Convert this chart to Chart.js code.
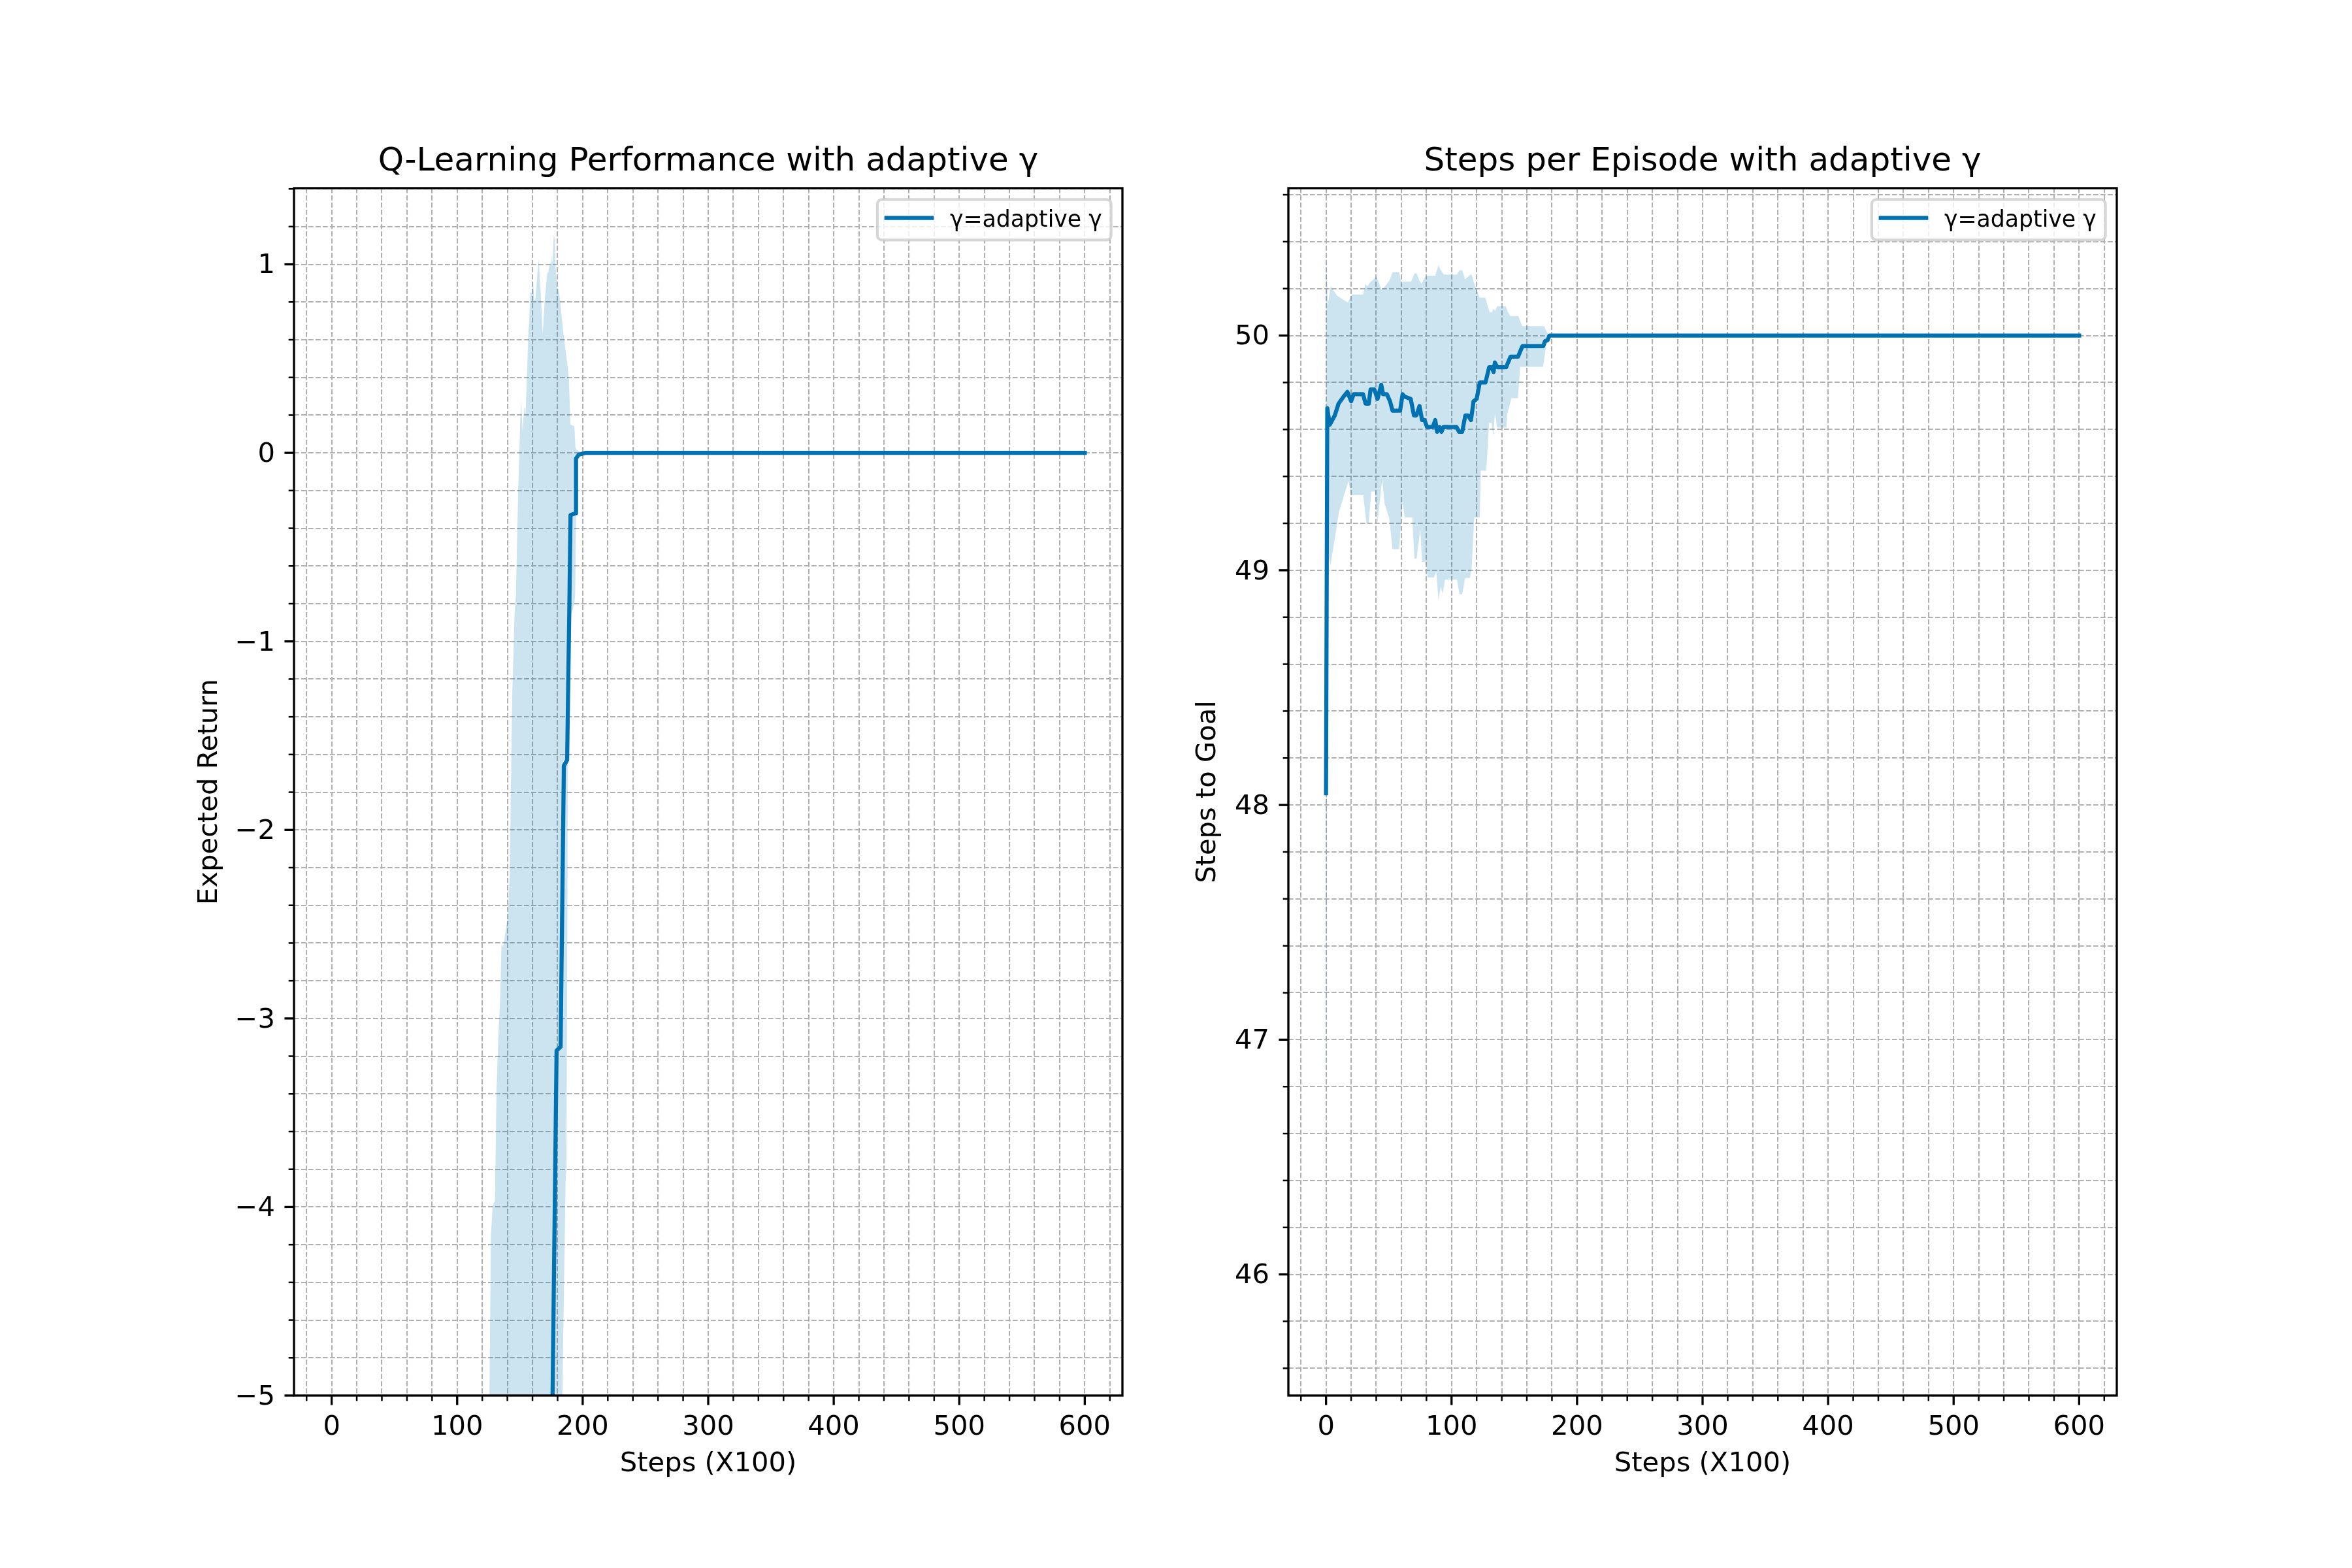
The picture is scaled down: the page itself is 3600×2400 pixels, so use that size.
<!DOCTYPE html>
<html>
<head>
<meta charset="utf-8">
<title>Q-Learning with adaptive gamma</title>
<script src="https://cdn.jsdelivr.net/npm/chart.js@4.4.1/dist/chart.umd.min.js"></script>
<style>
  html, body { margin: 0; padding: 0; background: #ffffff; }
  #figure { position: relative; width: 3600px; height: 2400px; background: #ffffff; }
  .panel { position: absolute; top: 0; width: 1800px; height: 2400px; }
</style>
</head>
<body>
<div id="figure">
  <div class="panel" style="left:0px"><canvas id="returnChart"></canvas></div>
  <div class="panel" style="left:1800px"><canvas id="stepsChart"></canvas></div>
</div>
<script>
// ---- values ----
const legendLabel = "γ=adaptive γ";

const xMajorTicks = [0, 100, 200, 300, 400, 500, 600];
const returnMajorTicks = [-5, -4, -3, -2, -1, 0, 1];
const stepsMajorTicks = [46, 47, 48, 49, 50];

// left panel: expected return (everything below -5 is off the axes)
const returnMeanX = [0, 120, 176, 179.2, 182.4, 185.0, 187.6, 189.4, 190.3, 194.4, 194.7, 196.8, 202, 600];
const returnMeanY = [-25, -14, -5, -3.17, -3.15, -1.66, -1.63, -0.8, -0.33, -0.32, -0.03, -0.01, 0, 0];

const returnUpperX = [0, 120, 125.7, 126.9, 128.3, 130.1, 131.3, 132.7, 134.4, 135.3, 136.6, 137.6, 140.5, 141.9, 142.7,
  143.9, 145.7, 146.8, 148.6, 150.4, 150.9, 152.1, 153.5, 154.3, 155.6, 156.6, 157.3, 158.3, 159.5, 160.4,
  161.3, 162.2, 163.0, 163.9, 165.1, 165.6, 166.5, 167.4, 168.2, 169.1, 170.0, 170.8, 171.7, 172.6, 173.4,
  174.3, 174.8, 175.5, 176.0, 176.9, 177.8, 178.3, 179.5, 180.4, 181.2, 182.1, 183.0, 183.8, 184.7, 185.9,
  187.0, 187.8, 189.0, 189.9, 190.3, 191.6, 193.4, 194.2, 195.1, 196.8, 199.4, 600];
const returnUpperY = [-12, -6, -5, -4.15, -3.99, -3.97, -3.39, -3.11, -2.87, -2.61, -2.62, -2.58, -2.45, -2.23, -1.82,
  -1.27, -0.86, -0.75, -0.2, 0.2, 0.28, 0.115, 0.25, 0.18, 0.41, 0.63, 0.69, 0.85, 0.85, 0.92,
  0.81, 0.81, 0.87, 0.95, 1.03, 0.95, 0.85, 0.74, 0.63, 0.74, 0.83, 0.88, 0.95, 0.96, 0.99,
  1.0, 1.05, 1.0, 1.02, 1.155, 1.13, 1.0, 0.88, 0.87, 0.85, 0.8, 0.74, 0.69, 0.63, 0.57,
  0.51, 0.47, 0.39, 0.22, 0.15, 0.147, 0.14, 0.03, 0.016, 0.01, 0, 0];

const returnLowerX = [0, 183, 183.8, 186.4, 187.0, 187.6, 188.2, 189.0, 190.8, 193.4, 194.0, 194.8, 195.3, 200, 600];
const returnLowerY = [-40, -6, -5, -3.86, -3.8, -2.87, -1.65, -1.0, -0.86, -0.8, -0.75, -0.31, -0.02, 0, 0];

// right panel: steps to goal
const stepsMeanX = [0, 1, 3, 7, 10, 14, 17, 20, 22, 29.5, 31.5, 34, 35.5, 38.5, 41, 44, 45.5, 48.5, 51, 53,
  59, 61, 62.5, 67.5, 70, 72, 74.5, 76.5, 78.5, 80.5, 85, 87, 88.5, 90.5, 92, 93.5, 104, 106, 108.5, 111,
  113, 115.5, 117.5, 120, 122.5, 127, 130, 132, 133.5, 134.5, 136.5, 143.5, 145, 147, 153, 154.5, 156.5,
  173, 174.5, 176.5, 178, 600];
const stepsMeanY = [48.05, 49.69, 49.62, 49.66, 49.71, 49.74, 49.76, 49.72, 49.75, 49.75, 49.71, 49.71, 49.77,
  49.77, 49.73, 49.79, 49.75, 49.75, 49.72, 49.68, 49.68, 49.75, 49.74, 49.73, 49.66, 49.66, 49.70, 49.64,
  49.64, 49.61, 49.61, 49.64, 49.59, 49.61, 49.59, 49.61, 49.61, 49.59, 49.59, 49.66, 49.66, 49.64, 49.72,
  49.73, 49.80, 49.80, 49.865, 49.865, 49.845, 49.885, 49.865, 49.865, 49.885, 49.91, 49.91, 49.93, 49.955,
  49.955, 49.976, 49.98, 50.0, 50.0];

const stepsUpperX = [0, 1.4, 3.8, 8.7, 17.4, 20.5, 29.6, 31.3, 33, 34.8, 40.3, 44.3, 47, 50.5, 53, 58.3, 60,
  61.7, 67.8, 70.4, 72.2, 73.9, 76.2, 77.4, 80, 87, 89.6, 91.3, 93.9, 104.3, 106.3, 108.5, 110.8, 114.6, 116,
  118.1, 122.4, 126.8, 130.3, 132.3, 133.4, 134.6, 136.3, 143.3, 144.5, 146.8, 153.2, 156.3, 173.7, 175.5,
  177.2, 600];
const stepsUpperY = [50.38, 50.13, 50.21, 50.17, 50.14, 50.175, 50.175, 50.22, 50.21, 50.225, 50.25, 50.195,
  50.21, 50.235, 50.27, 50.27, 50.22, 50.23, 50.23, 50.265, 50.265, 50.24, 50.22, 50.235, 50.255, 50.255,
  50.3, 50.28, 50.26, 50.26, 50.278, 50.278, 50.24, 50.258, 50.26, 50.22, 50.162, 50.162, 50.10, 50.10,
  50.115, 50.105, 50.125, 50.125, 50.105, 50.083, 50.083, 50.04, 50.04, 50.02, 50.0, 50.0];

const stepsLowerX = [0, 1, 3.5, 10.4, 17.9, 20, 29.6, 32.2, 34, 36, 39.1, 41, 44.7, 46.6, 50.4, 53, 58.3,
  60.9, 62.6, 68.7, 70.4, 72.2, 75.1, 76.5, 79.7, 80.9, 86.1, 87.8, 89.6, 91.3, 93, 94.8, 104.3, 106.3,
  108.5, 110.8, 114.6, 116, 118.1, 122.5, 123.3, 127.7, 129.9, 132, 133.2, 134.6, 136.3, 143.7, 144.5,
  147.7, 152.9, 154.6, 172.9, 174.6, 176.7, 600];
const stepsLowerY = [45.72, 49.1, 49.02, 49.25, 49.38, 49.32, 49.32, 49.2, 49.2, 49.335, 49.335, 49.2, 49.39,
  49.285, 49.22, 49.09, 49.09, 49.295, 49.225, 49.225, 49.05, 49.05, 49.175, 49.035, 49.035, 48.97, 48.97,
  48.995, 48.87, 48.93, 48.9, 48.96, 48.96, 48.897, 48.897, 48.967, 48.967, 49.007, 49.225, 49.225, 49.424,
  49.424, 49.628, 49.628, 49.573, 49.668, 49.608, 49.608, 49.668, 49.733, 49.733, 49.867, 49.867, 49.93,
  50.0, 50.0];

// ---- styling ----
const FONT = '"DejaVu Sans", sans-serif';
const lineColor = '#0072B2';
const bandColor = 'rgba(0, 114, 178, 0.2)';
const gridColor = 'rgb(176, 176, 176)';
const PX = 300 / 72; // points -> pixels at 300 dpi

function makeTicks(from, to, step) {
  const out = [];
  for (let i = 0; from + i * step <= to + 1e-9; i++) {
    out.push(Math.round((from + i * step) * 1000) / 1000);
  }
  return out;
}
const xTicks = makeTicks(-20, 620, 20);
const returnTicks = makeTicks(-5, 1.4, 0.2);
const stepsTicks = makeTicks(45.6, 50.6, 0.2);

function isMajor(v, majors) {
  return majors.some(m => Math.abs(m - v) < 1e-6);
}
function fmt(v) {
  return v < 0 ? '\u2212' + Math.abs(v) : String(v);
}
function pairs(xs, ys) {
  return xs.map((x, i) => ({ x: x, y: ys[i] }));
}

// frame, tick marks and the in-axes legend, drawn the matplotlib way
const mplAxes = {
  id: 'mplAxes',
  afterDraw(chart, args, opts) {
    const { ctx, chartArea: a } = chart;
    const xs = chart.scales.x, ys = chart.scales.y;
    ctx.save();
    ctx.strokeStyle = '#000';
    ctx.lineCap = 'butt';
    xs.ticks.forEach(t => {
      const major = isMajor(t.value, opts.xMajors);
      const p = xs.getPixelForValue(t.value);
      ctx.lineWidth = major ? 0.8 * PX : 0.6 * PX;
      ctx.beginPath();
      ctx.moveTo(p, a.bottom);
      ctx.lineTo(p, a.bottom + (major ? 3.5 : 2) * PX);
      ctx.stroke();
    });
    ys.ticks.forEach(t => {
      const major = isMajor(t.value, opts.yMajors);
      const p = ys.getPixelForValue(t.value);
      ctx.lineWidth = major ? 0.8 * PX : 0.6 * PX;
      ctx.beginPath();
      ctx.moveTo(a.left, p);
      ctx.lineTo(a.left - (major ? 3.5 : 2) * PX, p);
      ctx.stroke();
    });
    ctx.lineWidth = 0.8 * PX;
    ctx.strokeRect(a.left, a.top, a.right - a.left, a.bottom - a.top);

    // legend box
    const fs = 8.33 * PX;
    ctx.font = fs + 'px ' + FONT;
    const tw = ctx.measureText(opts.label).width;
    const pad = 0.4 * fs, handleLen = 2 * fs, textPad = 0.8 * fs;
    const w = pad * 2 + handleLen + textPad + tw;
    const h = 62;
    const right = a.right - 0.5 * fs;
    const top = a.top + 0.5 * fs;
    const left = right - w;
    ctx.beginPath();
    ctx.roundRect(left, top, w, h, 0.2 * fs);
    ctx.fillStyle = 'rgba(255, 255, 255, 0.8)';
    ctx.fill();
    ctx.lineWidth = 1.0 * PX;
    ctx.strokeStyle = 'rgba(204, 204, 204, 0.8)';
    ctx.stroke();
    ctx.beginPath();
    ctx.strokeStyle = lineColor;
    ctx.lineWidth = 1.5 * PX;
    ctx.lineCap = 'square';
    ctx.moveTo(left + pad, top + 28.3);
    ctx.lineTo(left + pad + handleLen, top + 28.3);
    ctx.stroke();
    ctx.fillStyle = '#000';
    ctx.textAlign = 'left';
    ctx.textBaseline = 'alphabetic';
    ctx.fillText(opts.label, left + pad + handleLen + textPad, top + 41.7);
    ctx.restore();
  }
};

function buildChart(id, o) {
  const tickFont = { family: FONT, size: 10 * PX };
  return new Chart(document.getElementById(id), {
    type: 'line',
    data: {
      datasets: [
        {
          label: legendLabel,
          data: pairs(o.meanX, o.meanY),
          borderColor: lineColor,
          borderWidth: 1.5 * PX,
          borderJoinStyle: 'round',
          borderCapStyle: 'square',
          pointRadius: 0,
          tension: 0,
          fill: false,
          clip: 0
        },
        {
          data: pairs(o.upX, o.upY),
          borderColor: 'rgba(0,0,0,0)',
          borderWidth: 0,
          backgroundColor: bandColor,
          pointRadius: 0,
          tension: 0,
          fill: '+1'
        },
        {
          data: pairs(o.loX, o.loY),
          borderColor: 'rgba(0,0,0,0)',
          borderWidth: 0,
          pointRadius: 0,
          tension: 0,
          fill: false
        }
      ]
    },
    options: {
      responsive: true,
      maintainAspectRatio: false,
      animation: false,
      devicePixelRatio: 1,
      events: [],
      layout: { autoPadding: false, padding: { left: 0, right: o.padRight, top: 0, bottom: 0 } },
      plugins: {
        legend: { display: false },
        tooltip: { enabled: false },
        title: {
          display: true,
          text: o.title,
          fullSize: false,
          color: '#000',
          font: { family: FONT, size: 12 * PX, weight: 'normal' },
          padding: { top: 218, bottom: 10 }
        },
        mplAxes: { label: legendLabel, xMajors: xMajorTicks, yMajors: o.yMajors }
      },
      scales: {
        x: {
          type: 'linear',
          min: -30,
          max: 630,
          afterBuildTicks: s => { s.ticks = xTicks.map(v => ({ value: v })); },
          afterFit: s => { s.height = 264; },
          grid: { color: gridColor, lineWidth: 0.5 * PX, drawTicks: false },
          border: { display: false, dash: [7.7, 3.3] },
          ticks: {
            autoSkip: false, maxRotation: 0, padding: 24, color: '#000', font: tickFont,
            callback: v => isMajor(v, xMajorTicks) ? fmt(v) : ''
          },
          title: {
            display: true, text: 'Steps (X100)', color: '#000', font: tickFont,
            padding: { top: 0, bottom: 134 }
          }
        },
        y: {
          type: 'linear',
          min: o.yMin,
          max: o.yMax,
          afterBuildTicks: s => { s.ticks = o.yTicks.map(v => ({ value: v })); },
          afterFit: s => { s.width = o.yWidth; },
          grid: { color: gridColor, lineWidth: 0.5 * PX, drawTicks: false },
          border: { display: false, dash: [7.7, 3.3] },
          ticks: {
            autoSkip: false, padding: 29, labelOffset: 3, color: '#000', font: tickFont,
            callback: v => isMajor(v, o.yMajors) ? fmt(v) : ''
          },
          title: {
            display: true, text: o.yTitle, color: '#000', font: tickFont,
            padding: { top: o.yTitlePad, bottom: 0 }
          }
        }
      }
    },
    plugins: [mplAxes]
  });
}

buildChart('returnChart', {
  title: 'Q-Learning Performance with adaptive γ',
  yTitle: 'Expected Return',
  meanX: returnMeanX, meanY: returnMeanY,
  upX: returnUpperX, upY: returnUpperY,
  loX: returnLowerX, loY: returnLowerY,
  yMin: -5, yMax: 1.404,
  yTicks: returnTicks, yMajors: returnMajorTicks,
  yWidth: 450, yTitlePad: 296, padRight: 82
});

buildChart('stepsChart', {
  title: 'Steps per Episode with adaptive γ',
  yTitle: 'Steps to Goal',
  meanX: stepsMeanX, meanY: stepsMeanY,
  upX: stepsUpperX, upY: stepsUpperY,
  loX: stepsLowerX, loY: stepsLowerY,
  yMin: 45.484, yMax: 50.628,
  yTicks: stepsTicks, yMajors: stepsMajorTicks,
  yWidth: 172, yTitlePad: 24, padRight: 360
});
</script>
</body>
</html>
